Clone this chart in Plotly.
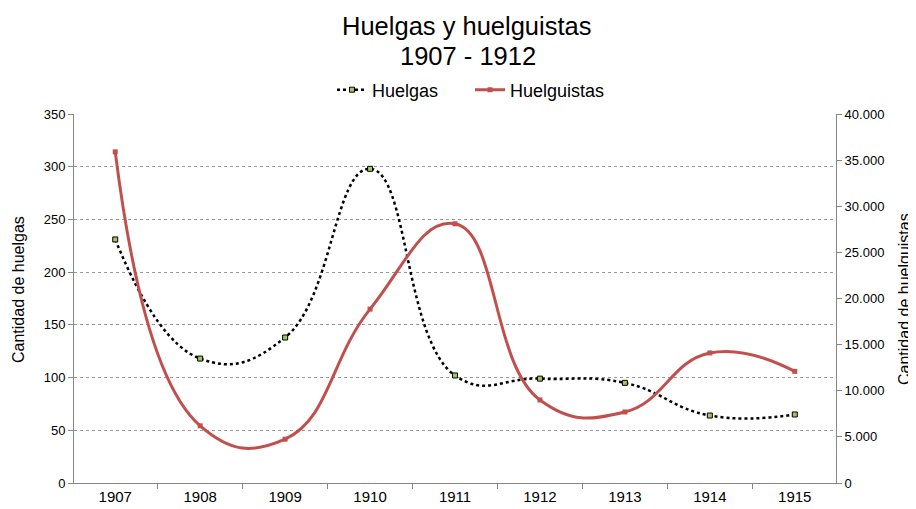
import plotly.graph_objects as go

years = ["1907", "1908", "1909", "1910", "1911", "1912", "1913", "1914", "1915"]
huelgas = [231, 118, 138, 298, 102, 99, 95, 64, 65]
huelguistas = [35900, 6200, 4750, 18850, 28100, 9000, 7700, 14100, 12100]

font = "Liberation Sans, Arial, sans-serif"

fig = go.Figure()
fig.add_trace(go.Scatter(
    x=years, y=huelgas, name="Huelgas", mode="lines+markers",
    line=dict(color="black", width=2.5, dash="dot", shape="spline", smoothing=1.3),
    marker=dict(symbol="square", size=5, color="#A4C561", line=dict(color="black", width=1)),
    yaxis="y"))
fig.add_trace(go.Scatter(
    x=years, y=huelguistas, name="Huelguistas", mode="lines+markers",
    line=dict(color="#C0504D", width=3, shape="spline", smoothing=1.3),
    marker=dict(symbol="square", size=5, color="#C0504D"),
    yaxis="y2"))

# page has an 8px body margin: figure starts at (8, 8) of the window
OFF = 8
W, H = 916 - OFF, 509 - OFF
L, R, T, B = 74 - OFF, 80, 114 - OFF, 26
pw = W - L - R
ph = H - T - B
def px(x):
    return (x - OFF - L) / pw
def py(y):
    return (H - B - (y - OFF)) / ph

annotations = [
    dict(text="Huelgas y huelguistas", x=px(466.5), y=py(26.4), xref="paper", yref="paper",
         xanchor="center", yanchor="middle", showarrow=False, font=dict(size=25.5, family=font)),
    dict(text="1907 - 1912", x=px(468), y=py(56.4), xref="paper", yref="paper",
         xanchor="center", yanchor="middle", showarrow=False, font=dict(size=25.5, family=font)),
    dict(text="Cantidad de huelgas", x=px(18), y=py(290), xref="paper", yref="paper",
         xanchor="center", yanchor="middle", showarrow=False, textangle=-90,
         font=dict(size=16, family=font)),
    dict(text="Cantidad de huelguistas", x=px(904), y=py(299), xref="paper", yref="paper",
         xanchor="center", yanchor="middle", showarrow=False, textangle=-90,
         font=dict(size=16, family=font)),
]

fig.update_layout(
    width=W, height=H,
    paper_bgcolor="white", plot_bgcolor="white",
    separators=",.",
    font=dict(family=font, size=13, color="black"),
    margin=dict(l=L, r=R, t=T, b=B, autoexpand=False),
    annotations=annotations,
    legend=dict(orientation="h", x=px(332), xanchor="left", y=py(90), yanchor="middle",
                font=dict(size=18), bgcolor="rgba(0,0,0,0)", entrywidth=93,
                entrywidthmode="pixels"),
    showlegend=True,
    xaxis=dict(type="category", tickson="boundaries", ticks="outside", ticklen=5,
               tickcolor="#868686", showline=True, linecolor="#868686", linewidth=1,
               showgrid=False, tickfont=dict(size=15), automargin=False),
    yaxis=dict(range=[0, 350], dtick=50, ticks="outside", ticklen=5, tickcolor="#868686",
               showline=True, linecolor="#868686", showgrid=True, gridcolor="#999999",
               griddash="dot", gridwidth=1, zeroline=False, automargin=False,
               tickfont=dict(size=13)),
    yaxis2=dict(range=[0, 40000], dtick=5000, overlaying="y", side="right",
                tickformat=",d", ticks="outside", ticklen=5, tickcolor="#868686",
                showline=True, linecolor="#868686", showgrid=False, zeroline=False,
                automargin=False, tickfont=dict(size=13)),
)
fig.write_html("out.html")
